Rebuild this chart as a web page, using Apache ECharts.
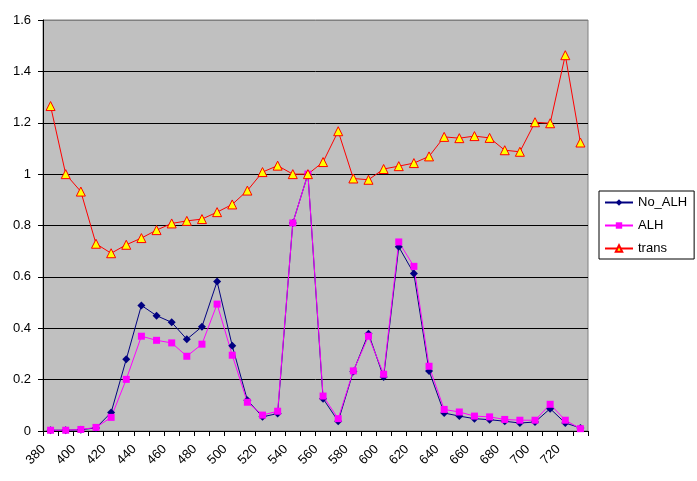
<!DOCTYPE html>
<html>
<head>
<meta charset="utf-8">
<script src="https://cdn.jsdelivr.net/npm/echarts@6/dist/echarts.min.js"></script>
<style>html,body{margin:0;padding:0;background:#fff;}#c{width:697px;height:481px;}</style>
</head>
<body>
<div id="c"></div>
<script>
var categories = ['380','390','400','410','420','430','440','450','460','470','480','490','500','510','520','530','540','550','560','570','580','590','600','610','620','630','640','650','660','670','680','690','700','710','720','730'];
var noALH = [0.003,0.003,0.005,0.012,0.072,0.279,0.489,0.449,0.423,0.357,0.406,0.582,0.332,0.12,0.055,0.068,0.81,1.0,0.126,0.038,0.232,0.379,0.21,0.717,0.613,0.234,0.07,0.058,0.048,0.044,0.038,0.031,0.035,0.087,0.031,0.012];
var alh = [0.003,0.003,0.006,0.014,0.053,0.201,0.369,0.353,0.343,0.291,0.338,0.494,0.295,0.112,0.062,0.077,0.81,1.0,0.136,0.048,0.234,0.369,0.221,0.736,0.641,0.252,0.084,0.074,0.058,0.055,0.045,0.042,0.042,0.104,0.042,0.009];
var trans = [1.265,1.0,0.932,0.729,0.692,0.725,0.751,0.782,0.808,0.818,0.825,0.852,0.882,0.936,1.008,1.033,1.0,1.0,1.047,1.167,0.983,0.978,1.02,1.031,1.043,1.069,1.145,1.14,1.148,1.141,1.093,1.087,1.202,1.198,1.463,1.123];
var yTicks = [0, 0.2, 0.4, 0.6, 0.8, 1, 1.2, 1.4, 1.6];

var chart = echarts.init(document.getElementById('c'), null, {renderer: 'canvas'});
var font = 'Liberation Sans, Arial, sans-serif';
chart.setOption({
  animation: false,
  backgroundColor: '#ffffff',
  textStyle: {fontFamily: font},
  grid: {left: 43, top: 20, right: 109, bottom: 50, show: true, backgroundColor: '#C0C0C0', borderColor: '#808080', borderWidth: 1},
  legend: {
    orient: 'vertical', left: 599, top: 191,
    backgroundColor: '#ffffff', borderColor: '#000000', borderWidth: 1, borderRadius: 0,
    padding: [5, 7, 4, 5], itemGap: 10, itemWidth: 28, itemHeight: 8,
    textStyle: {fontFamily: font, fontSize: 13, color: '#000'},
    data: ['No_ALH', 'ALH', 'trans']
  },
  xAxis: {
    type: 'category', data: categories, boundaryGap: true,
    axisLine: {lineStyle: {color: '#000', width: 1}},
    axisTick: {show: true, length: 5, alignWithLabel: false, interval: 0, lineStyle: {color: '#000'}},
    axisLabel: {interval: 1, rotate: 45, margin: 9, padding: [0, 10, 0, 0], fontSize: 13, color: '#000', fontFamily: font},
    splitLine: {show: false}
  },
  yAxis: {
    type: 'value', min: 0, max: 1.6, interval: 0.2,
    axisLine: {show: true, lineStyle: {color: '#000', width: 1}},
    axisTick: {show: true, length: 5, lineStyle: {color: '#000'}},
    axisLabel: {margin: 12, fontSize: 13, color: '#000', fontFamily: font,
      formatter: function (v) { return String(Math.round(v * 10) / 10); }},
    splitLine: {show: true, lineStyle: {color: ['#000','#000','#000','#000','#000','#000','#000','#000','#808080'], width: 1}}
  },
  series: [
    {name: 'No_ALH', type: 'line', data: noALH, symbol: 'diamond', symbolSize: 8,
     lineStyle: {color: '#000080', width: 1}, itemStyle: {color: '#000080'}},
    {name: 'ALH', type: 'line', data: alh, symbol: 'rect', symbolSize: 7,
     lineStyle: {color: '#FF00FF', width: 1}, itemStyle: {color: '#FF00FF'}},
    {name: 'trans', type: 'line', data: trans, symbol: 'triangle', symbolSize: 9,
     lineStyle: {color: '#FF0000', width: 1}, itemStyle: {color: '#FFFF00', borderColor: '#FF0000', borderWidth: 1}}
  ]
});
</script>
</body>
</html>
